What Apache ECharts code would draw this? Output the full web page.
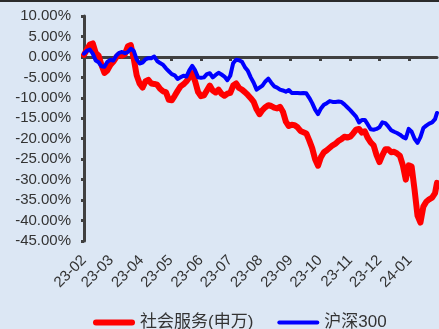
<!DOCTYPE html>
<html>
<head>
<meta charset="utf-8">
<script src="https://cdn.jsdelivr.net/npm/echarts@6/dist/echarts.min.js"></script>
<style>
  html, body { margin: 0; padding: 0; background: #dce7f4; }
  #chart { width: 439px; height: 329px; }
</style>
</head>
<body>
<div id="chart"></div>
<script>
// Sample dates (every third calendar day, Feb 2023 – Jan 2024)
var dates = [
  '2023-02-01','2023-02-04','2023-02-07','2023-02-10','2023-02-13','2023-02-16','2023-02-19','2023-02-22','2023-02-25','2023-02-28',
  '2023-03-03','2023-03-06','2023-03-09','2023-03-12','2023-03-15','2023-03-18','2023-03-21','2023-03-24','2023-03-27','2023-03-30',
  '2023-04-02','2023-04-05','2023-04-08','2023-04-11','2023-04-14','2023-04-17','2023-04-20','2023-04-23','2023-04-26','2023-04-29',
  '2023-05-02','2023-05-05','2023-05-08','2023-05-11','2023-05-14','2023-05-17','2023-05-20','2023-05-23','2023-05-26','2023-05-29',
  '2023-06-01','2023-06-04','2023-06-07','2023-06-10','2023-06-13','2023-06-16','2023-06-19','2023-06-22','2023-06-25','2023-06-28',
  '2023-07-01','2023-07-04','2023-07-07','2023-07-10','2023-07-13','2023-07-16','2023-07-19','2023-07-22','2023-07-25','2023-07-28',
  '2023-07-31','2023-08-03','2023-08-06','2023-08-09','2023-08-12','2023-08-15','2023-08-18','2023-08-21','2023-08-24','2023-08-27',
  '2023-08-30','2023-09-02','2023-09-05','2023-09-08','2023-09-11','2023-09-14','2023-09-17','2023-09-20','2023-09-23','2023-09-26',
  '2023-09-29','2023-10-02','2023-10-05','2023-10-08','2023-10-11','2023-10-14','2023-10-17','2023-10-20','2023-10-23','2023-10-26',
  '2023-10-29','2023-11-01','2023-11-04','2023-11-07','2023-11-10','2023-11-13','2023-11-16','2023-11-19','2023-11-22','2023-11-25',
  '2023-11-28','2023-12-01','2023-12-04','2023-12-07','2023-12-10','2023-12-13','2023-12-16','2023-12-19','2023-12-22','2023-12-25',
  '2023-12-28','2023-12-31','2024-01-03','2024-01-06','2024-01-09','2024-01-12','2024-01-15','2024-01-18','2024-01-21','2024-01-24',
  '2024-01-27','2024-01-29'
];

// 社会服务(申万) cumulative return, %
var socialService = [
  0.5, 1.8, 3.0, 3.3, 1.0, 0.3, -2.0, -3.9, -3.3, -2.0,
  -1.2, -0.1, 0.6, 0.3, 0.7, 2.6, 2.9, -0.4, -4.5, -6.5,
  -7.5, -6.0, -5.6, -6.5, -6.6, -6.8, -7.8, -8.4, -8.6, -10.5,
  -10.6, -9.5, -8.3, -7.2, -6.7, -6.0, -5.0, -4.0, -6.0, -8.6,
  -9.6, -9.4, -8.2, -7.0, -8.2, -8.7, -8.0, -9.0, -9.5, -9.0,
  -8.8, -7.0, -6.5, -7.6, -8.0, -8.6, -9.3, -10.1, -11.0, -12.8,
  -14.0, -13.0, -12.3, -11.8, -12.0, -12.4, -12.6, -12.2, -13.4, -15.8,
  -16.9, -16.6, -16.7, -17.2, -18.1, -18.4, -18.7, -20.4, -22.3, -25.0,
  -26.6, -24.5, -23.3, -22.8, -22.2, -21.6, -21.2, -20.5, -20.1, -19.5,
  -19.7, -19.5, -18.7, -17.8, -17.6, -18.5, -18.2, -19.8, -20.9, -21.6,
  -24.0, -25.7, -24.0, -22.6, -22.6, -23.3, -23.2, -23.6, -24.2, -26.5,
  -30.0, -26.5, -26.8, -32.5, -38.8, -40.5, -36.6, -35.4, -34.8, -34.4,
  -33.3, -30.8
];

// 沪深300 cumulative return, %
var csi300 = [
  0.8, 1.5, 1.8, 0.8, -0.9, -1.3, -2.3, -2.4, -1.2, -0.7,
  -0.9, 0.3, 1.0, 1.2, 0.9, 1.2, 2.0, 1.5, -0.6, -1.6,
  -1.4, -0.6, -0.3, -0.3, 0.1, -1.0, -1.5, -1.9, -2.8, -3.5,
  -4.2, -4.5, -5.4, -5.0, -4.6, -4.8, -3.3, -2.2, -3.3, -5.0,
  -5.1, -5.0, -4.2, -4.0, -5.0, -4.4, -3.9, -4.3, -4.8, -5.7,
  -4.6, -1.5, -0.7, -0.8, -1.2, -2.5, -3.4, -5.0, -6.3, -8.0,
  -7.5, -7.0, -6.0, -5.3, -6.3, -7.2, -7.5, -8.0, -8.2, -8.5,
  -8.1, -8.8, -8.8, -8.8, -8.9, -8.8, -8.9, -10.0, -11.3, -12.9,
  -14.0, -12.6, -11.7, -11.3, -10.8, -11.0, -11.0, -10.9, -11.0, -11.6,
  -12.3, -13.0, -13.8, -14.6, -16.0, -15.4, -15.4, -16.5, -17.7, -17.8,
  -17.6, -17.2, -16.0, -16.2, -17.0, -17.9, -18.3, -18.6, -19.0, -19.6,
  -19.9, -17.6, -18.3, -20.0, -21.0, -19.6, -17.4, -16.8, -16.3, -16.0,
  -15.2, -13.7
];

var seriesNames = ['社会服务(申万)', '沪深300'];
var axisColor = '#404040';
var textColor = '#333333';
var font = '"Liberation Sans", Arial, "Noto Sans CJK SC", sans-serif';

function pairs(values) {
  return dates.map(function (d, i) { return [d, values[i]]; });
}

var chart = echarts.init(document.getElementById('chart'), null, { renderer: 'canvas' });
chart.setOption({
  backgroundColor: '#dce7f4',
  animation: false,
  textStyle: { fontFamily: font },
  graphic: [
    { type: 'rect', left: 0, top: 0, shape: { width: 439, height: 2 }, style: { fill: '#2b2b2b' } }
  ],
  grid: { left: 84, right: 2, top: 16, bottom: 88, containLabel: false },
  legend: {
    left: 88, top: 309,
    itemWidth: 42, itemHeight: 14, itemGap: 24,
    textStyle: { fontSize: 17, color: textColor, fontFamily: font },
    data: [
      { name: seriesNames[0], icon: 'path://M3,0L39,0A3,3,0,0,1,39,6L3,6A3,3,0,0,1,3,0Z' },
      { name: seriesNames[1], icon: 'path://M2,0L40,0A2,2,0,0,1,40,4L2,4A2,2,0,0,1,2,0Z' }
    ]
  },
  xAxis: {
    type: 'time',
    min: '2023-02-01',
    max: '2024-01-29',
    minInterval: 28 * 86400000,
    maxInterval: 31 * 86400000,
    splitLine: { show: false },
    axisLine: { lineStyle: { color: axisColor, width: 3 } },
    axisTick: { show: true, length: 4, lineStyle: { color: axisColor, width: 3 } },
    axisLabel: {
      rotate: 45, margin: 17, fontSize: 15, color: textColor, fontFamily: font,
      showMinLabel: true, showMaxLabel: false,
      formatter: function (v) { return echarts.time.format(v, '{yy}-{MM}', false); }
    }
  },
  yAxis: {
    type: 'value',
    min: -45, max: 10, interval: 5,
    splitLine: { show: false },
    axisLine: { show: true, lineStyle: { color: axisColor, width: 3 } },
    axisTick: { show: true, length: 3, lineStyle: { color: axisColor, width: 3 } },
    axisLabel: {
      margin: 13, fontSize: 15, color: textColor, fontFamily: font,
      formatter: function (v) { return v.toFixed(2) + '%'; }
    }
  },
  series: [
    {
      name: seriesNames[0], type: 'line', symbol: 'none', z: 2,
      data: pairs(socialService),
      itemStyle: { color: '#ff0000' },
      lineStyle: { color: '#ff0000', width: 6, join: 'round', cap: 'round' }
    },
    {
      name: seriesNames[1], type: 'line', symbol: 'none', z: 3,
      data: pairs(csi300),
      itemStyle: { color: '#0000ff' },
      lineStyle: { color: '#0000ff', width: 4, join: 'round', cap: 'round' }
    }
  ]
});
</script>
</body>
</html>
